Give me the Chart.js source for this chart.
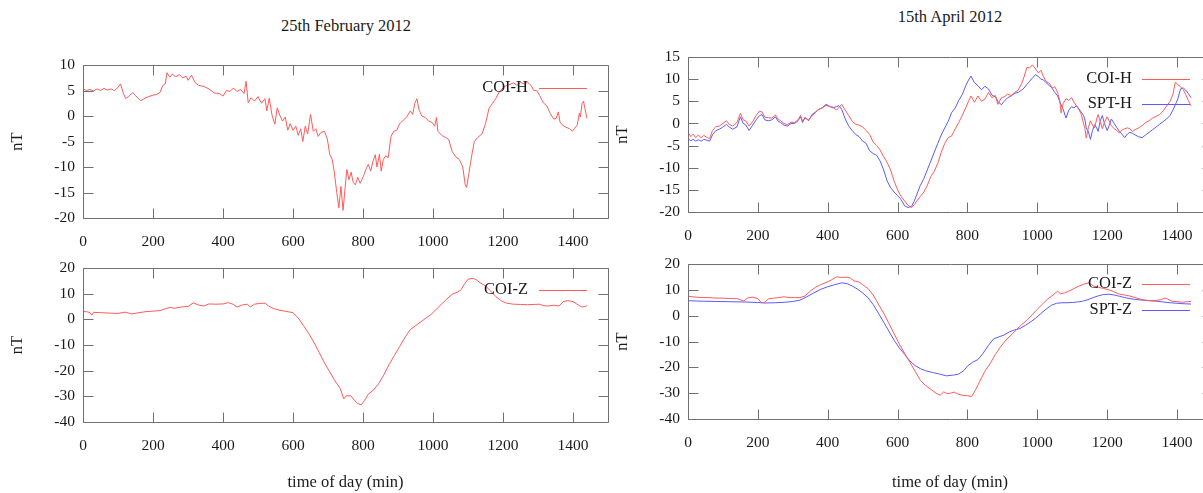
<!DOCTYPE html>
<html><head><meta charset="utf-8">
<script src="https://cdn.jsdelivr.net/npm/chart.js@4.4.1/dist/chart.umd.min.js"></script>
<style>
html,body{margin:0;padding:0;background:#fff;width:1203px;height:493px;overflow:hidden;}
canvas{position:absolute;}
.t{position:absolute;font-family:'Liberation Serif','Times New Roman',serif;font-size:16.5px;color:#1a1a1a;white-space:nowrap;transform:translate(-50%,-50%);}
</style></head><body>
<div class="t" style="left:346px;top:26px">25th February 2012</div>
<div class="t" style="left:950px;top:17px">15th April 2012</div>
<canvas id="c1" width="620" height="260" style="left:0;top:0"></canvas>
<canvas id="c2" width="620" height="243" style="left:0;top:250px"></canvas>
<canvas id="c3" width="620" height="255" style="left:600px;top:0"></canvas>
<canvas id="c4" width="620" height="248" style="left:600px;top:245px"></canvas>
<script>
// ---------- tick labels ----------
const xTicks = [0,200,400,600,800,1000,1200,1400];
const febHTicks = [-20,-15,-10,-5,0,5,10];
const zTicks = [-40,-30,-20,-10,0,10,20];
const aprHTicks = [-20,-15,-10,-5,0,5,10,15];

// ---------- 25 Feb 2012, COI-H ----------
const febH_t = [0,10,20,30,40,50,60,70,80,90,100,107,115,122,130,142,150,165,180,200,210,220,228,235,240,248,255,265,275,285,295,300,310,320,330,345,360,375,390,400,410,420,430,440,450,460,466,472,480,490,500,510,520,525,532,540,548,555,562,570,578,585,592,600,608,615,622,628,635,642,650,658,665,672,680,690,698,705,712,718,725,731,737,743,749,754,760,766,772,778,785,792,800,808,815,822,828,835,840,847,852,858,865,872,880,888,896,905,915,925,935,942,948,954,960,968,978,988,998,1005,1010,1014,1025,1035,1045,1055,1065,1075,1085,1092,1096,1102,1110,1118,1128,1140,1150,1160,1170,1180,1190,1200,1210,1220,1230,1240,1250,1260,1270,1280,1288,1296,1305,1315,1325,1335,1345,1352,1358,1363,1370,1380,1390,1398,1405,1412,1418,1421,1426,1430,1434,1440];
const febH_v = [5.3,5.0,5.2,4.9,5.3,5.0,5.4,5.1,5.3,5.0,5.6,6.3,4.5,3.4,3.8,4.6,4.0,3.0,3.6,4.1,4.2,4.6,6.0,6.3,8.5,7.6,8.2,7.7,8.1,7.5,7.8,7.0,8.0,6.6,6.0,5.8,5.3,4.5,4.4,3.9,5.0,4.8,5.5,4.8,5.2,4.4,6.8,2.6,3.6,2.9,3.8,2.5,3.4,1.0,3.5,0.2,-1.6,1.6,0.2,-1.0,-0.2,-2.8,-1.5,-2.8,-2.0,-3.8,-2.5,-5.0,-2.0,-3.5,0.3,-3.0,-2.5,-4.0,-3.2,-3.0,-4.5,-7.5,-8.5,-11.0,-15.0,-18.0,-13.8,-18.5,-14.0,-10.5,-12.5,-11.0,-13.0,-13.5,-12.0,-13.2,-12.0,-10.5,-9.5,-10.8,-9.0,-7.6,-10.0,-7.5,-10.8,-8.5,-7.8,-8.2,-4.0,-3.0,-2.8,-1.5,-0.8,-0.2,1.0,0.3,2.5,3.4,1.2,0.0,-0.3,-1.0,-1.3,-2.0,-0.3,-3.0,-3.8,-4.2,-4.6,-7.0,-8.0,-8.5,-10.0,-13.5,-14.0,-11.5,-8.0,-5.0,-4.2,-3.5,-1.5,1.5,2.5,3.5,4.8,5.5,6.0,6.2,6.5,6.0,6.6,6.3,6.6,6.0,5.0,5.0,4.0,2.6,2.0,0.5,-0.6,-0.5,0.8,-1.2,-1.8,-2.2,-2.5,-3.0,-2.4,-1.8,0.5,-0.2,2.5,2.9,1.5,-0.5];

// ---------- 25 Feb 2012, COI-Z ----------
const febZ_t = [0,10,20,25,30,50,80,100,120,140,160,180,200,220,240,250,260,280,300,315,330,345,360,380,400,415,430,440,455,470,478,490,505,520,530,545,560,580,600,615,630,645,660,675,690,705,720,735,745,752,765,775,785,795,805,815,830,845,860,875,890,905,920,935,950,965,980,995,1010,1025,1040,1055,1070,1080,1090,1100,1115,1125,1135,1150,1165,1180,1195,1210,1230,1250,1270,1290,1305,1315,1330,1345,1360,1372,1385,1400,1415,1425,1435,1440];
const febZ_v = [3.0,3.0,2.6,1.6,2.7,2.6,2.4,2.3,2.8,2.1,2.6,3.0,3.2,3.4,4.3,4.7,4.3,4.8,5.0,6.4,5.6,5.2,6.0,5.9,6.0,6.5,5.8,4.8,5.6,5.9,4.8,5.9,6.2,6.3,5.2,4.2,3.6,3.1,2.6,0.5,-2.5,-5.5,-9.0,-13.0,-17.0,-20.5,-24.0,-27.0,-31.0,-29.8,-29.8,-31.5,-32.8,-33.3,-31.5,-29.2,-27.5,-25.0,-21.5,-17.5,-14.0,-10.5,-7.0,-4.0,-2.5,-1.0,0.5,2.0,4.0,6.0,8.0,9.8,10.6,11.5,13.8,15.6,16.0,15.3,14.2,13.0,11.0,8.8,7.2,6.3,5.9,5.8,5.7,5.8,5.9,5.3,5.2,5.5,5.2,6.9,7.3,6.9,5.6,4.8,5.0,5.3];

// ---------- 15 Apr 2012, H ----------
const aprH_t = [0,8,15,22,30,38,45,55,62,70,80,90,100,110,118,128,140,150,158,165,175,185,195,205,212,220,230,240,250,258,265,275,285,295,305,315,322,328,335,345,355,365,375,385,395,405,415,425,432,440,450,460,470,480,490,500,510,520,530,540,550,560,570,580,590,600,610,620,630,640,648,655,665,675,685,695,705,715,725,735,745,755,765,775,785,795,803,810,820,830,840,850,860,870,880,887,897,905,915,925,935,945,955,962,970,978,986,995,1003,1010,1018,1025,1035,1042,1050,1058,1064,1068,1074,1082,1090,1098,1105,1112,1120,1126,1132,1136,1140,1146,1152,1158,1164,1170,1174,1180,1186,1192,1200,1206,1212,1220,1228,1235,1242,1250,1258,1265,1272,1280,1290,1300,1310,1320,1330,1340,1350,1360,1370,1380,1388,1395,1402,1410,1418,1425,1432,1440];
const aprCOIH_v = [-2.0,-3.0,-2.4,-3.2,-2.6,-3.3,-2.7,-3.2,-3.4,-1.6,-0.7,-0.6,0.0,0.6,-0.2,-0.6,0.2,2.3,0.8,0.6,-0.6,0.4,1.8,2.8,2.6,1.4,1.3,1.2,1.9,1.0,0.6,0.0,-0.3,0.3,0.2,0.8,1.8,0.5,1.2,0.8,1.6,2.5,3.2,3.5,4.1,3.8,3.7,3.0,3.6,4.3,3.0,1.8,0.5,-0.2,-0.4,-0.8,-1.6,-2.5,-4.2,-5.0,-6.0,-7.5,-8.8,-10.5,-13.0,-15.0,-16.5,-17.5,-18.5,-19.0,-18.3,-17.5,-16.5,-15.5,-14.0,-12.0,-10.8,-9.0,-6.5,-4.5,-3.2,-2.8,-1.2,0.2,1.8,3.5,5.0,6.2,4.8,6.2,5.0,5.5,7.0,5.8,6.3,4.3,5.8,6.0,6.6,6.3,7.0,7.5,9.0,10.5,12.6,12.6,13.2,12.3,11.4,12.0,10.5,9.5,9.0,8.0,8.3,7.0,5.2,2.4,4.5,5.6,5.2,5.8,4.8,3.9,3.0,2.0,0.0,-1.0,-3.3,-1.0,0.6,-0.4,-1.0,1.0,2.0,0.5,-1.2,0.2,1.5,0.5,-0.5,-1.2,-1.6,-2.2,-1.5,-1.2,-1.0,-1.2,-1.8,-1.4,-1.0,-0.5,0.2,0.6,1.2,1.6,2.0,2.8,3.9,5.0,6.5,9.3,8.8,8.3,7.6,6.5,5.2,4.0];
const aprSPTH_v = [-3.5,-3.9,-3.6,-4.0,-3.7,-4.0,-3.6,-3.8,-4.0,-2.6,-1.6,-1.3,-0.8,-0.2,-0.8,-1.3,-0.8,1.5,0.0,-0.3,-1.6,-0.4,0.8,1.8,2.0,0.8,0.6,0.8,1.5,0.5,0.2,-0.4,-0.6,0.0,0.0,0.6,1.5,0.2,1.4,0.6,2.0,2.6,3.2,3.6,4.3,3.9,3.5,3.8,4.0,3.2,1.0,-0.6,-1.6,-2.5,-3.0,-4.0,-4.5,-6.2,-6.8,-7.2,-8.5,-10.5,-13.0,-14.5,-15.5,-16.3,-17.2,-18.6,-19.0,-18.7,-17.5,-16.0,-14.0,-12.5,-10.5,-8.5,-6.5,-4.5,-2.6,-1.0,0.5,2.5,3.5,5.2,6.5,8.5,9.8,10.7,9.2,8.5,7.6,8.4,7.8,6.4,6.0,5.0,4.2,5.0,5.8,6.2,6.8,7.0,7.5,8.0,8.8,9.5,10.3,11.0,10.6,10.0,9.8,9.2,8.5,8.0,7.0,6.2,5.0,4.2,3.2,1.2,3.0,3.8,3.5,4.0,3.2,2.5,1.8,1.0,-1.0,-1.8,-3.6,-1.6,-0.3,-1.0,-1.8,0.5,1.8,0.0,-1.6,-0.4,1.0,0.0,-1.0,-1.8,-2.4,-3.2,-2.4,-2.0,-2.2,-2.6,-3.0,-3.2,-2.6,-2.0,-1.4,-0.8,-0.2,0.4,1.0,1.8,3.0,4.2,5.5,7.8,8.0,7.5,6.8,5.8,4.5,3.5];

// ---------- 15 Apr 2012, Z ----------
const aprCOIZ_t = [0,20,40,60,80,100,120,140,150,160,170,185,200,210,220,230,245,260,275,290,305,320,335,350,365,380,395,410,425,440,455,465,475,490,500,515,530,545,560,575,590,605,620,635,650,665,680,695,710,722,732,742,752,762,772,785,800,812,822,835,850,865,880,895,910,925,940,955,970,985,1000,1015,1030,1045,1058,1066,1078,1090,1105,1120,1135,1148,1160,1175,1190,1205,1220,1235,1250,1265,1280,1295,1310,1325,1340,1355,1365,1372,1385,1400,1415,1430,1440];
const aprCOIZ_v = [7.5,7.2,7.0,7.0,6.8,6.8,6.6,6.6,6.2,5.6,6.8,7.2,6.6,5.0,5.2,6.5,6.8,7.0,7.3,7.0,7.0,7.0,7.6,9.5,11.0,12.0,12.8,13.8,15.0,14.8,14.9,14.5,13.5,13.0,12.0,10.5,8.0,4.5,1.0,-3.0,-7.0,-11.0,-14.5,-18.0,-21.5,-25.0,-27.0,-28.5,-30.0,-30.8,-29.5,-30.2,-30.0,-29.6,-30.3,-30.8,-31.0,-31.3,-29.0,-25.5,-21.5,-18.5,-15.0,-12.0,-9.5,-7.5,-5.5,-3.5,-1.8,0.3,2.5,4.5,6.5,8.0,9.5,8.5,8.8,9.5,10.5,11.5,12.3,12.7,11.5,11.0,10.5,10.0,9.2,8.3,8.0,7.6,7.0,6.4,6.0,5.8,5.9,6.2,6.8,6.5,5.6,5.4,5.2,5.4,5.5];
const aprSPTZ_t = [0,40,80,120,160,200,220,250,280,300,320,340,360,380,400,420,440,455,470,485,500,515,530,545,560,575,590,605,620,635,650,665,680,700,720,740,760,775,790,800,815,830,845,860,875,890,905,920,935,950,965,980,995,1010,1025,1040,1055,1070,1085,1100,1115,1130,1145,1160,1175,1190,1205,1220,1235,1250,1265,1280,1300,1320,1340,1360,1380,1400,1420,1440];
const aprSPTZ_v = [5.8,5.6,5.5,5.4,5.3,5.1,4.9,5.0,5.2,5.5,6.0,7.3,8.8,10.2,11.2,12.0,12.7,12.4,11.5,10.3,8.8,7.0,4.3,1.0,-2.5,-6.0,-9.5,-12.5,-15.0,-17.5,-19.3,-20.5,-21.3,-22.0,-22.6,-23.3,-23.0,-22.6,-21.2,-19.5,-18.0,-17.0,-14.5,-11.5,-9.0,-8.2,-7.5,-6.3,-5.5,-5.0,-3.8,-2.5,-1.0,0.8,2.5,4.0,4.8,5.0,5.0,5.1,5.3,5.6,6.2,7.0,7.7,8.2,8.3,8.0,7.5,7.0,6.6,6.3,6.0,5.8,5.6,5.3,5.0,4.8,4.6,4.5];

// ---------- styling ----------
const RED = '#ff5a5a', BLUE = '#5a5aff', FRAME = '#707070', TXT = '#1a1a1a';
const FONT = "'Liberation Serif', 'Times New Roman', serif";
Chart.defaults.font.family = FONT;
Chart.defaults.font.size = 15.5;
Chart.defaults.color = TXT;
const tickFont = {family: FONT, size: 15.5, style: 'normal', weight: 'normal'};
const titleFont = {family: FONT, size: 16.5, style: 'normal', weight: 'normal'};

const pts = (t, v) => t.map((x, i) => ({x: x, y: v[i]}));

const gnuFrame = {
  id: 'gnuFrame',
  afterDatasetsDraw(chart) {
    const {ctx, chartArea: a, scales} = chart;
    ctx.save();
    ctx.strokeStyle = FRAME;
    ctx.lineWidth = 1;
    ctx.beginPath();
    const L = Math.round(a.left) + 0.5, R = Math.round(a.right) + 0.5;
    const T = Math.round(a.top) + 0.5, B = Math.round(a.bottom) + 0.5;
    ctx.rect(L, T, R - L, B - T);
    const len = 10;
    scales.x.ticks.forEach(tk => {
      const px = Math.round(scales.x.getPixelForValue(tk.value)) + 0.5;
      ctx.moveTo(px, B); ctx.lineTo(px, B - len);
      ctx.moveTo(px, T); ctx.lineTo(px, T + len);
    });
    scales.y.ticks.forEach(tk => {
      const py = Math.round(scales.y.getPixelForValue(tk.value)) + 0.5;
      ctx.moveTo(L, py); ctx.lineTo(L + len, py);
      ctx.moveTo(R, py); ctx.lineTo(R - len, py);
    });
    ctx.stroke();
    // gnuplot style key: label then line sample
    const k = chart.options.plugins.gnuKey;
    ctx.font = '16.5px ' + FONT;
    ctx.textAlign = 'right';
    ctx.textBaseline = 'middle';
    chart.data.datasets.forEach((ds, i) => {
      const y = a.top + k.y0 + i * k.dy;
      ctx.fillStyle = TXT;
      ctx.fillText(ds.label, a.left + k.tx, y);
      ctx.strokeStyle = ds.borderColor;
      ctx.lineWidth = 1;
      ctx.beginPath();
      ctx.moveTo(a.left + k.l1, Math.round(y) + 0.5);
      ctx.lineTo(a.left + k.l2, Math.round(y) + 0.5);
      ctx.stroke();
    });
    ctx.restore();
  }
};

function makeChart(id, datasets, yTicks, o) {
  return new Chart(document.getElementById(id), {
    type: 'line',
    data: {datasets: datasets.map(d => ({
      label: d.label, data: d.data, borderColor: d.color, borderWidth: 1,
      pointRadius: 0, tension: 0, fill: false
    }))},
    options: {
      responsive: false, animation: false, events: [],
      layout: {padding: {left: 0, right: o.padR, top: o.padT, bottom: 0}},
      plugins: {legend: {display: false}, tooltip: {enabled: false},
                gnuKey: {tx: o.keyTx, l1: o.keyL1, l2: o.keyL2, y0: o.keyY0, dy: 25.5}},
      scales: {
        x: {
          type: 'linear', min: 0, max: 1500,
          grid: {display: false, drawTicks: false}, border: {display: false},
          ticks: {padding: 15, maxRotation: 0, autoSkip: false, font: tickFont, color: TXT, callback: v => String(v)},
          afterBuildTicks: s => { s.ticks = xTicks.map(v => ({value: v})); },
          afterFit: s => { s.height = o.xH; },
          title: o.xTitle ? {display: true, text: 'time of day (min)', font: titleFont, padding: {top: 0, bottom: 0}, color: TXT} : {display: false}
        },
        y: {
          type: 'linear', min: yTicks[0], max: yTicks[yTicks.length - 1],
          grid: {display: false, drawTicks: false}, border: {display: false},
          ticks: {padding: 8, autoSkip: false, font: tickFont, color: TXT, callback: v => String(v)},
          afterBuildTicks: s => { s.ticks = yTicks.map(v => ({value: v})); },
          afterFit: s => { s.width = o.yW; },
          title: {display: true, text: 'nT', font: titleFont, padding: {top: o.yTitlePad, bottom: 0}, color: TXT}
        }
      }
    },
    plugins: [gnuFrame]
  });
}

makeChart('c1', [{label: 'COI-H', data: pts(febH_t, febH_v), color: RED}], febHTicks,
  {padR: 12, padT: 65, xH: 42, yW: 83, yTitlePad: 8, keyTx: 445, keyL1: 456, keyL2: 504, keyY0: 22.5, xTitle: false});
makeChart('c2', [{label: 'COI-Z', data: pts(febZ_t, febZ_v), color: RED}], zTicks,
  {padR: 12, padT: 18, xH: 71, yW: 83, yTitlePad: 8, keyTx: 445, keyL1: 456, keyL2: 504, keyY0: 22, xTitle: true});
makeChart('c3', [{label: 'COI-H', data: pts(aprH_t, aprCOIH_v), color: RED},
                 {label: 'SPT-H', data: pts(aprH_t, aprSPTH_v), color: BLUE}], aprHTicks,
  {padR: 8, padT: 57, xH: 43, yW: 88, yTitlePad: 13, keyTx: 444, keyL1: 454, keyL2: 502, keyY0: 21.5, xTitle: false});
makeChart('c4', [{label: 'COI-Z', data: pts(aprCOIZ_t, aprCOIZ_v), color: RED},
                 {label: 'SPT-Z', data: pts(aprSPTZ_t, aprSPTZ_v), color: BLUE}], zTicks,
  {padR: 8, padT: 19, xH: 74, yW: 88, yTitlePad: 13, keyTx: 444, keyL1: 454, keyL2: 502, keyY0: 20, xTitle: true});
</script>
</body></html>
